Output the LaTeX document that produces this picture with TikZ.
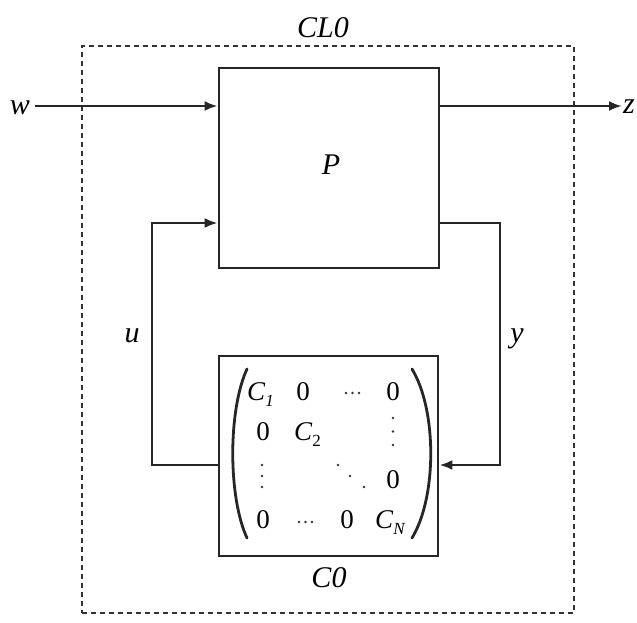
\documentclass[tikz,border=0pt]{standalone}
\usepackage{fontspec}
\setmainfont{Liberation Serif}
\usetikzlibrary{arrows.meta}
\begin{document}
\begin{tikzpicture}[x=1pt,y=-1pt,
  blk/.style={draw=black!85,line width=2.7pt,minimum width=220pt,minimum height=200pt,inner sep=0pt},
  sig/.style={draw=black!85,line width=2.6pt,-{Latex[length=13pt,width=10pt]}},
  lbl/.style={font=\fontsize{30}{32}\selectfont\itshape,inner sep=0pt,anchor=base},
  ent/.style={font=\fontsize{27}{30}\selectfont,inner sep=0pt,anchor=base},
  dot/.style={fill=black!80,draw=none},
  paren/.style={draw=black!85,line width=2.8pt,line cap=round}]
\useasboundingbox (0,0) rectangle (637,623);
% dashed boundary
\node[draw=black!80,line width=2pt,dash pattern=on 5pt off 4pt,minimum width=492pt,minimum height=567pt,inner sep=0pt] (CL) at (327.5,329.5) {};
\node[lbl] (CLlbl) at (323,38) {CL0};
% blocks
\node[blk] (P) at (329,168) {};
\node[lbl] (Plbl) at (331,175) {P};
\node[blk,minimum width=219pt] (C0) at (328.5,456) {};
\node[lbl] (C0lbl) at (329,587) {C0};
% external signals
\node[lbl] (w) at (20,115) {w};
\node[lbl] (z) at (629,114) {z};
\coordinate (wstart) at (35,106);
\coordinate (zend) at (622,106);
\draw[sig] (wstart) -- (wstart -| P.west);
\draw[sig] (zend -| P.east) -- (zend);
% feedback loop
\coordinate (uc) at (152,344);
\coordinate (yc) at (500,344);
\coordinate (ytop) at (439,223);
\coordinate (ybot) at (438,465);
\draw[sig] (C0.west |- ybot) -| (uc) |- (P.west |- ytop);
\draw[sig] (P.east |- ytop) -| (yc) |- (C0.east |- ybot);
\node[lbl] (u) at (132,342) {u};
\node[lbl] (y) at (517,342) {y};
% matrix parentheses
\coordinate (lpt) at (247,369);
\coordinate (lpb) at (247,538);
\coordinate (rpt) at (412,369);
\coordinate (rpb) at (412,538);
\draw[paren] (lpt) .. controls (228,410) and (228,497) .. (lpb);
\draw[paren] (rpt) .. controls (437,410) and (437,497) .. (rpb);
% entries
\node[ent,anchor=base west] (m11) at (247,400) {\textit{C}\raisebox{-6pt}{\fontsize{17}{17}\selectfont\textit{1}}};
\node[ent] (m12) at (303,400) {0};
\node[ent] (m14) at (393,400) {0};
\node[ent] (m21) at (263,440) {0};
\node[ent,anchor=base west] (m22) at (294,440) {\textit{C}\raisebox{-6pt}{\fontsize{17}{17}\selectfont 2}};
\node[ent] (m34) at (393,488) {0};
\node[ent] (m41) at (263,528) {0};
\node[ent] (m43) at (347,528) {0};
\node[ent,anchor=base west] (m44) at (375,528) {\textit{C}\raisebox{-6pt}{\fontsize{17}{17}\selectfont\textit{N}}};
% dots
\foreach \x in {346,352.5,359} \fill[dot] (\x,393) circle (1.3);
\foreach \x in {299,305.5,312} \fill[dot] (\x,522) circle (1.3);
\foreach \y in {418,431.5,445} \fill[dot] (393,\y) circle (1.3);
\foreach \y in {465,476,487} \fill[dot] (262,\y) circle (1.3);
\fill[dot] (338,465) circle (1.3);
\fill[dot] (350,476) circle (1.3);
\fill[dot] (364,487) circle (1.3);
\end{tikzpicture}
\end{document}
